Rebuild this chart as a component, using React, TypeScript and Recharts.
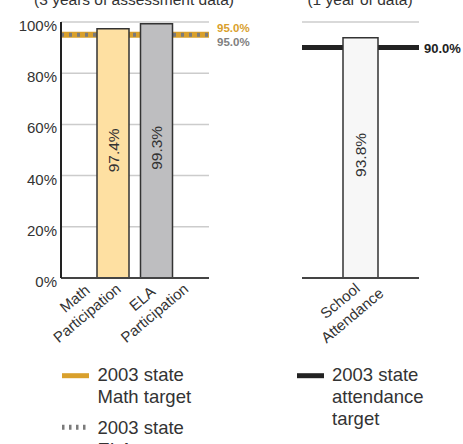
import React from 'react';
import {
  BarChart,
  Bar,
  Cell,
  XAxis,
  YAxis,
  CartesianGrid,
  ReferenceLine,
  LabelList,
} from 'recharts';

const participationNames = ['Math\nParticipation', 'ELA\nParticipation'];
const participationValues = [97.4, 99.3];
const participationFills = ['#FEE0A2', '#BEBEC0'];
const attendanceNames = ['School\nAttendance'];
const attendanceValues = [93.8];
const yTicks = [0, 20, 40, 60, 80, 100];
const mathTarget = 95;
const elaTarget = 95;
const attendanceTarget = 90;
const leftLegend = [
  { lines: ['2003 state', 'Math target'], kind: 'gold' },
  { lines: ['2003 state', 'ELA target'], kind: 'dash' },
];
const rightLegend = ['2003 state', 'attendance', 'target'];

const FONT = '"Liberation Sans", Arial, Helvetica, sans-serif';
const GOLD = '#D9A02C';
const DASH = '#7B7B7B';
const INK = '#333333';

const participation = participationNames.map((name, i) => ({
  name,
  value: participationValues[i],
  fill: participationFills[i],
}));
const attendance = attendanceNames.map((name, i) => ({
  name,
  value: attendanceValues[i],
}));

const pct = (v: number) => `${v.toFixed(1)}%`;

const YTick = (props: any) => {
  const { x, y, payload } = props;
  return (
    <text x={x - 2} y={y + 9} textAnchor="end" fontSize={15} fill={INK} fontFamily={FONT}>
      {payload.value}%
    </text>
  );
};

// two-line category label, lines centred and turned 40 degrees
// the source spreads its labels wider than the bars, hence the per-index nudge
const makeCatTick = (nudge: number[], along: number, base: number) => (props: any) => {
  const { x, y, payload, index } = props;
  const lines = String(payload.value).split('\n');
  const dx = nudge[index] ?? 0;
  return (
    <g transform={`translate(${x + dx},${y}) rotate(-40)`}>
      {lines.map((l, i) => (
        <text
          key={l}
          x={along}
          y={base + i * 19}
          textAnchor="middle"
          fontSize={15}
          fill={INK}
          fontFamily={FONT}
        >
          {l}
        </text>
      ))}
    </g>
  );
};

const BarValue = (props: any) => {
  const { x, y, width, height, value } = props;
  const cx = x + width / 2 + 5.5;
  const cy = y + height / 2 - 3;
  return (
    <text
      transform={`translate(${cx},${cy}) rotate(-90)`}
      textAnchor="middle"
      fontSize={15.5}
      fill={INK}
      fontFamily={FONT}
    >
      {pct(value)}
    </text>
  );
};

const targetLabel = (text: string, color: string, gap: number, dy: number, size: number) => (p: any) => {
  const vb = p.viewBox || {};
  return (
    <text
      x={vb.x + vb.width + gap}
      y={vb.y + dy}
      fontSize={size}
      fontWeight="bold"
      fill={color}
      fontFamily={FONT}
    >
      {text}
    </text>
  );
};

export default function App() {
  return (
    <div
      style={{
        position: 'absolute',
        left: 0,
        top: 0,
        width: 463,
        height: 444,
        overflow: 'hidden',
        background: '#fff',
        fontFamily: FONT,
      }}
    >
      <div style={{ position: 'absolute', left: 0, top: 0 }}>
        <BarChart
          width={260}
          height={348}
          data={participation}
          margin={{ top: 22, right: 51, bottom: 0, left: 0 }}
        >
          <CartesianGrid vertical={false} stroke="#CCCCCC" strokeWidth={1.5} />
          <XAxis
            dataKey="name"
            interval={0}
            tickLine={false}
            tickSize={0}
            axisLine={{ stroke: '#444', strokeWidth: 2 }}
            padding={{ left: 30, right: 31 }}
            height={70}
            tick={makeCatTick([0, 24], -41, -5)}
          />
          <YAxis
            domain={[0, 100]}
            ticks={yTicks}
            width={61}
            tickLine={false}
            tickSize={0}
            axisLine={{ stroke: '#222', strokeWidth: 2 }}
            tick={<YTick />}
          />
          <YAxis
            yAxisId="r"
            orientation="right"
            domain={[0, 100]}
            width={0}
            tick={false}
            tickLine={false}
            axisLine={{ stroke: '#666', strokeWidth: 2 }}
          />
          <ReferenceLine
            y={mathTarget}
            stroke={GOLD}
            strokeWidth={6}
            zIndex={-10}
            label={targetLabel(pct(mathTarget), GOLD, 8, -3, 11.5)}
          />
          <ReferenceLine
            y={elaTarget}
            stroke={DASH}
            strokeWidth={4}
            strokeDasharray="3 5"
            zIndex={-9}
            label={targetLabel(pct(elaTarget), '#808080', 8, 11, 11.5)}
          />
          <Bar dataKey="value" barSize={32} stroke="#333" strokeWidth={1.5} isAnimationActive={false}>
            {participation.map((d) => (
              <Cell key={d.name} fill={d.fill} />
            ))}
            <LabelList dataKey="value" content={<BarValue />} />
          </Bar>
        </BarChart>
      </div>

      <div style={{ position: 'absolute', left: 262, top: 0 }}>
        <BarChart
          width={201}
          height={348}
          data={attendance}
          margin={{ top: 22, right: 44, bottom: 0, left: 40 }}
        >
          <CartesianGrid vertical={false} stroke="#CCCCCC" strokeWidth={1.5} />
          <XAxis
            dataKey="name"
            interval={0}
            tickLine={false}
            tickSize={0}
            axisLine={{ stroke: '#444', strokeWidth: 2 }}
            height={70}
            tick={makeCatTick([0], -29, 8)}
          />
          <YAxis
            domain={[0, 100]}
            ticks={yTicks}
            width={0}
            tick={false}
            tickLine={false}
            axisLine={{ stroke: '#222', strokeWidth: 2 }}
          />
          <YAxis
            yAxisId="r"
            orientation="right"
            domain={[0, 100]}
            width={0}
            tick={false}
            tickLine={false}
            axisLine={{ stroke: '#666', strokeWidth: 2 }}
          />
          <ReferenceLine
            y={attendanceTarget}
            stroke="#222"
            strokeWidth={5}
            zIndex={-10}
            label={targetLabel(pct(attendanceTarget), '#222', 5, 5, 13)}
          />
          <Bar
            dataKey="value"
            barSize={35}
            fill="#F7F7F7"
            stroke="#333"
            strokeWidth={1.5}
            isAnimationActive={false}
          >
            <LabelList dataKey="value" content={<BarValue />} />
          </Bar>
        </BarChart>
      </div>

      <svg
        width={463}
        height={444}
        style={{ position: 'absolute', left: 0, top: 0, pointerEvents: 'none' }}
        fontFamily={FONT}
      >
        <text x={134} y={4.5} textAnchor="middle" fontSize={15.5} fill={INK}>
          (3 years of assessment data)
        </text>
        <text x={360} y={4.5} textAnchor="middle" fontSize={15.5} fill={INK}>
          (1 year of data)
        </text>

        {leftLegend.map((item, k) => {
          const top = 380.7 + k * 53.5;
          return (
            <g key={k}>
              {item.kind === 'gold' ? (
                <line x1={62} x2={89} y1={top - 5} y2={top - 5} stroke={GOLD} strokeWidth={5} />
              ) : (
                <line
                  x1={62}
                  x2={89}
                  y1={top - 7}
                  y2={top - 7}
                  stroke={DASH}
                  strokeWidth={5}
                  strokeDasharray="2.5 4.5"
                />
              )}
              {item.lines.map((l, i) => (
                <text key={l} x={97.5} y={top + i * 22} fontSize={18.5} fill={INK}>
                  {l}
                </text>
              ))}
            </g>
          );
        })}

        <line x1={297} x2={324} y1={375.7} y2={375.7} stroke="#222" strokeWidth={5} />
        {rightLegend.map((l, i) => (
          <text key={l} x={332} y={380.7 + i * 22} fontSize={18.5} fill={INK}>
            {l}
          </text>
        ))}
      </svg>
    </div>
  );
}
